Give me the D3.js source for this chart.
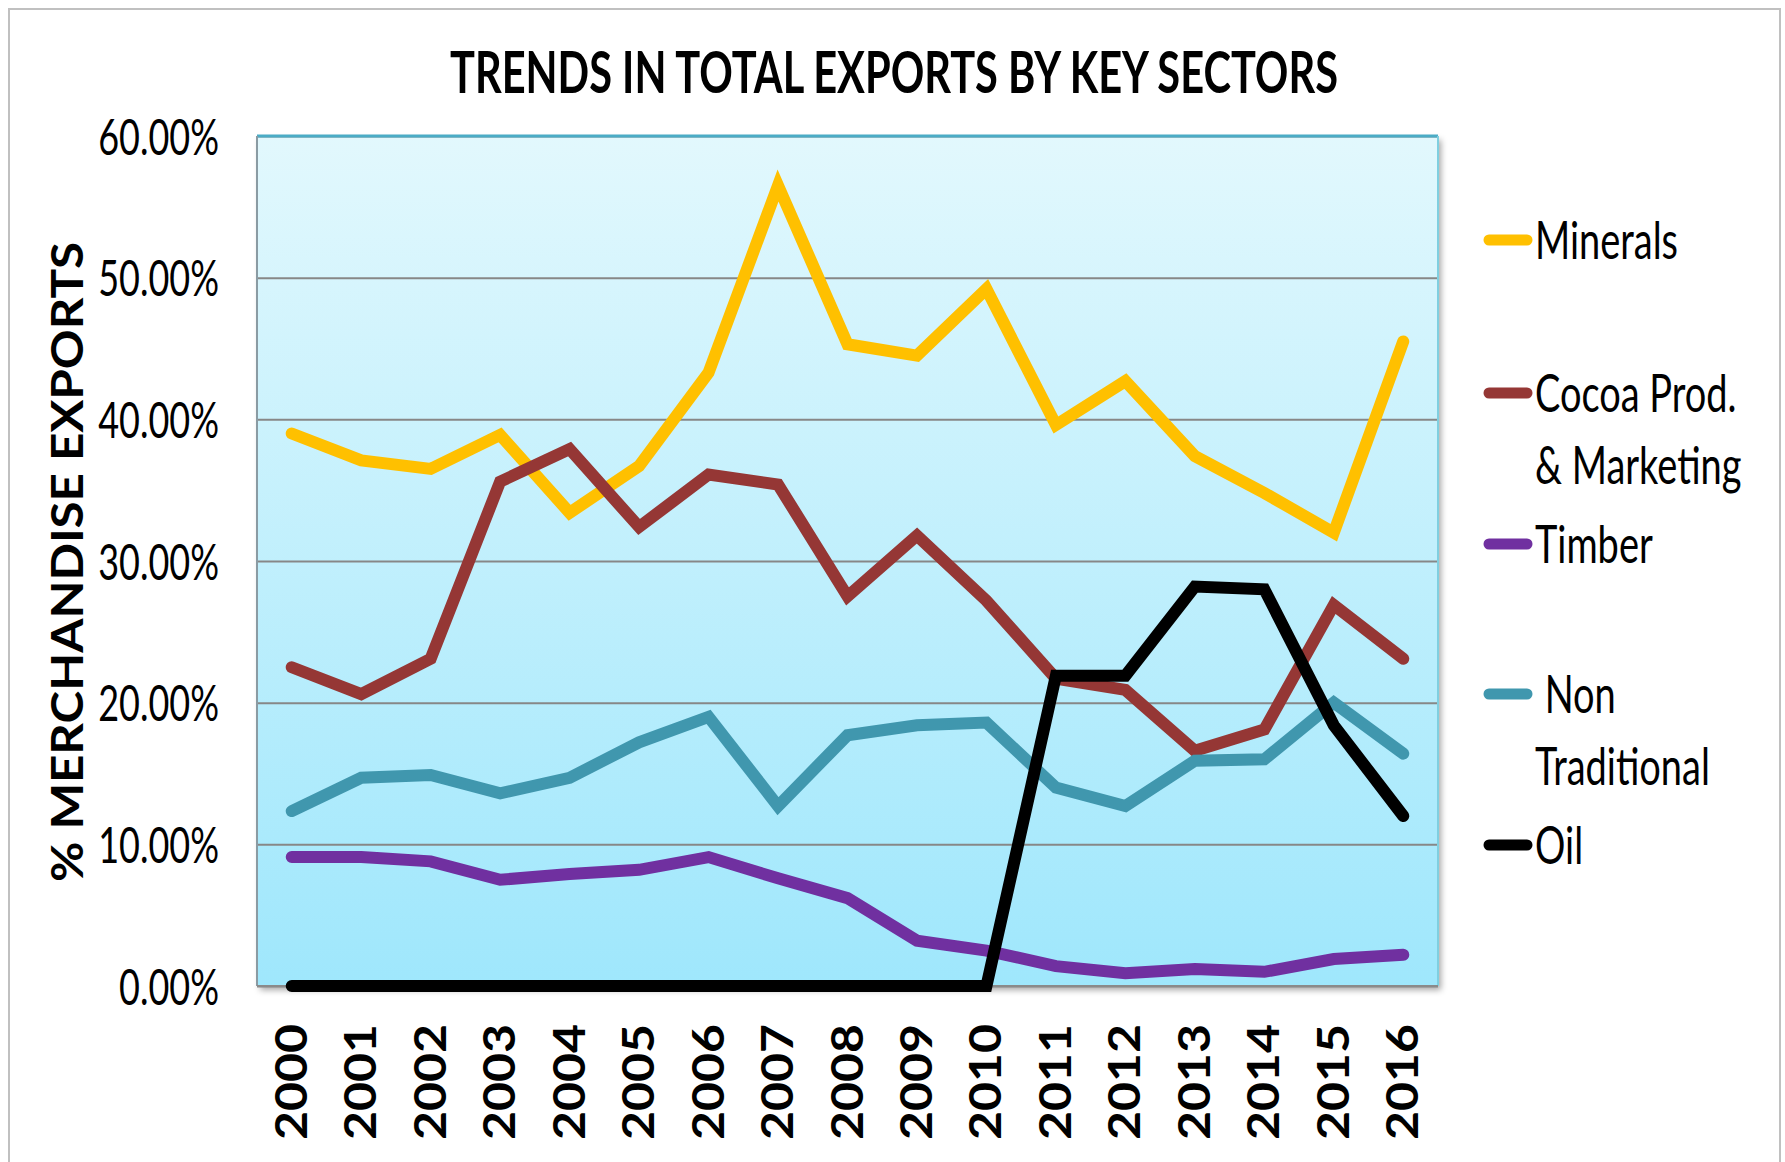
<!DOCTYPE html>
<html lang="en">
<head>
<meta charset="utf-8">
<script src="https://d3js.org/d3.v7.min.js"></script>
<style>
  body { margin: 0; background: #fff; }
  text { font-family: Lato, "Open Sans", sans-serif; }
</style>
</head>
<body>
<svg width="1785" height="1162"></svg>
<script>
// chart data (% of merchandise exports)
var years = ["2000","2001","2002","2003","2004","2005","2006","2007","2008",
             "2009","2010","2011","2012","2013","2014","2015","2016"];
var minerals = [39.0,37.1,36.5,38.9,33.4,36.7,43.3,56.5,45.3,44.5,49.2,39.6,42.7,37.4,34.8,32.0,45.5];
var cocoa    = [22.5,20.6,23.1,35.6,37.9,32.4,36.1,35.4,27.5,31.8,27.2,21.7,20.9,16.6,18.1,26.9,23.1];
var timber   = [9.1,9.1,8.8,7.5,7.9,8.2,9.1,7.6,6.2,3.2,2.5,1.4,0.9,1.2,1.0,1.9,2.2];
var nonTrad  = [12.35,14.7,14.9,13.6,14.7,17.2,19.0,12.7,17.7,18.4,18.6,14.0,12.7,15.9,16.0,20.0,16.4];
var oil      = [0,0,0,0,0,0,0,0,0,0,0,21.9,21.9,28.2,28.0,18.4,12.0];
var yTicks   = [0,10,20,30,40,50,60];

var series = [
  { name: ["Minerals"],                    values: minerals, color: "#ffc000" },
  { name: ["Cocoa Prod.", "& Marketing"],  values: cocoa,    color: "#953735" },
  { name: ["Timber"],                      values: timber,   color: "#7030a0" },
  { name: [" Non", "Traditional"],         values: nonTrad,  color: "#4097ae" },
  { name: ["Oil"],                         values: oil,      color: "#000000" }
];

var svg = d3.select("svg");
var pLeft = 257, pRight = 1438, pTop = 136, pBottom = 986;

var defs = svg.append("defs");
var grad = defs.append("linearGradient").attr("id", "bg")
    .attr("x1", 0).attr("y1", 0).attr("x2", 0).attr("y2", 1);
grad.append("stop").attr("offset", "0%").attr("stop-color", "#e2f8fd");
grad.append("stop").attr("offset", "100%").attr("stop-color", "#9fe7fc");
var shadow = defs.append("filter").attr("id", "shadow")
    .attr("x", "-5%").attr("y", "-5%").attr("width", "115%").attr("height", "115%");
shadow.append("feDropShadow").attr("dx", 3).attr("dy", 4).attr("stdDeviation", 3)
    .attr("flood-color", "#000").attr("flood-opacity", 0.35);

// outer frame
svg.append("rect").attr("x", 9).attr("y", 9).attr("width", 1771).attr("height", 1170)
    .attr("fill", "none").attr("stroke", "#c0c0c0").attr("stroke-width", 2);

var x = d3.scaleBand().domain(years).range([pLeft, pRight]);
var y = d3.scaleLinear().domain([0, 60]).range([pBottom, pTop]);
var cx = function(d, i) { return x(years[i]) + x.bandwidth() / 2; };

// plot area
svg.append("rect").attr("x", pLeft).attr("y", pTop)
    .attr("width", pRight - pLeft).attr("height", pBottom - pTop)
    .attr("fill", "url(#bg)").attr("filter", "url(#shadow)");

// gridlines + y labels
var yAxis = svg.append("g").attr("transform", "translate(" + pLeft + ",0)")
    .call(d3.axisLeft(y).tickValues(yTicks).tickSize(-(pRight - pLeft)).tickPadding(0)
        .tickFormat(function(d) { return d3.format(".2f")(d) + "%"; }));
yAxis.select(".domain").remove();
yAxis.selectAll(".tick line").attr("stroke", "#878787").attr("stroke-width", 2);
yAxis.selectAll(".tick text")
    .attr("x", null).attr("dy", "0.36em")
    .attr("transform", "translate(-38,0) scale(0.72,1)")
    .attr("font-size", 50).attr("fill", "#000").attr("font-family", "Lato, sans-serif");

// plot border
svg.append("line").attr("x1", pLeft).attr("x2", pRight).attr("y1", pTop).attr("y2", pTop)
    .attr("stroke", "#4bacc6").attr("stroke-width", 3);
svg.append("line").attr("x1", pRight).attr("x2", pRight).attr("y1", pTop).attr("y2", pBottom)
    .attr("stroke", "#7fcfe0").attr("stroke-width", 2);
svg.append("line").attr("x1", pLeft).attr("x2", pLeft).attr("y1", pTop).attr("y2", pBottom)
    .attr("stroke", "#8a9ba3").attr("stroke-width", 2);
svg.append("line").attr("x1", pLeft).attr("x2", pRight).attr("y1", pBottom).attr("y2", pBottom)
    .attr("stroke", "#8a8a8a").attr("stroke-width", 2);

// x labels
var xAxis = svg.append("g").attr("transform", "translate(0," + pBottom + ")")
    .call(d3.axisBottom(x).tickSize(0).tickPadding(0));
xAxis.select(".domain").remove();
xAxis.selectAll(".tick text")
    .attr("y", null).attr("dy", null)
    .attr("transform", "translate(15,38) rotate(-90)")
    .attr("text-anchor", "end")
    .attr("font-family", "'DejaVu Sans', Verdana, sans-serif")
    .attr("font-weight", "bold").attr("font-size", 44).attr("fill", "#000")
    .attr("textLength", 116).attr("lengthAdjust", "spacingAndGlyphs");

// lines
var line = d3.line().x(cx).y(function(d) { return y(d); });
svg.selectAll(".series").data(series).enter().append("path")
    .attr("class", "series")
    .attr("d", function(s) { return line(s.values); })
    .attr("fill", "none")
    .attr("stroke", function(s) { return s.color; })
    .attr("stroke-width", 12)
    .attr("stroke-linejoin", "miter")
    .attr("stroke-linecap", "round");

// legend
var legendY = [240, 393, 544, 694, 845];
var legend = svg.selectAll(".legend").data(series).enter().append("g")
    .attr("class", "legend")
    .attr("transform", function(s, i) { return "translate(1489," + legendY[i] + ")"; });
legend.append("line").attr("x1", 0).attr("x2", 38).attr("y1", 0).attr("y2", 0)
    .attr("stroke", function(s) { return s.color; })
    .attr("stroke-width", 11).attr("stroke-linecap", "round");
legend.each(function(s) {
  var g = d3.select(this);
  s.name.forEach(function(t, j) {
    g.append("text")
      .attr("transform", "translate(46," + (j * 72) + ") scale(0.73,1)")
      .attr("dy", "0.36em").attr("font-size", 52).attr("fill", "#000")
      .attr("xml:space", "preserve")
      .text(t);
  });
});

// title
svg.append("text").attr("x", 894).attr("y", 93)
    .attr("text-anchor", "middle").attr("font-weight", "bold")
    .attr("font-size", 58).attr("textLength", 888).attr("lengthAdjust", "spacingAndGlyphs")
    .text("TRENDS IN TOTAL EXPORTS BY KEY SECTORS");

// y title
svg.append("text").attr("transform", "translate(83,562) rotate(-90)")
    .attr("text-anchor", "middle").attr("font-weight", "bold")
    .attr("font-size", 44).attr("textLength", 640).attr("lengthAdjust", "spacingAndGlyphs")
    .text("% MERCHANDISE EXPORTS");
</script>
</body>
</html>
